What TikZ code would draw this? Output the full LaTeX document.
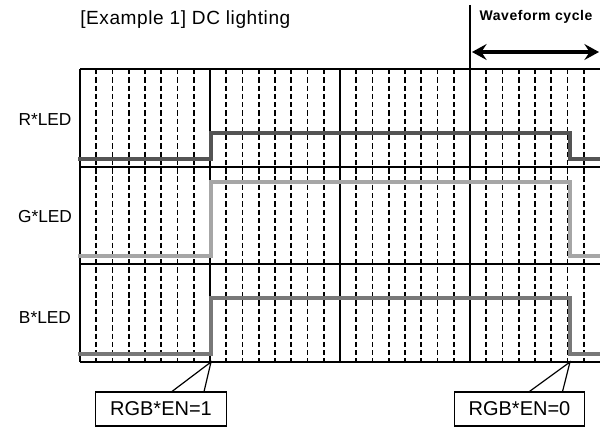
\documentclass[tikz,border=0pt]{standalone}
\usepackage{fontspec}
\setmainfont{Liberation Sans}
\usetikzlibrary{arrows.meta,calc}
\begin{document}
\begin{tikzpicture}[x=0.75pt,y=-0.75pt,
  gridline/.style={line width=1.1pt},
  dashline/.style={line width=1.4pt, dash pattern=on 4pt off 2.2pt},
  wave/.style={line width=2.7pt},
  rowlbl/.style={font=\fontsize{13}{15}\selectfont, anchor=center, inner sep=0pt},
  callout/.style={draw, line width=0.9pt, fill=white, minimum width=98pt, minimum height=25.5pt, inner sep=0pt, font=\fontsize{15}{17}\selectfont},
  pointer/.style={line width=0.9pt}
]
\useasboundingbox (0,0) rectangle (600,428);
% dashed sub-grid
\foreach \k in {1,...,31}{
  \pgfmathtruncatemacro{\m}{mod(\k,8)}
  \ifnum\m>0
    \draw[dashline] ({80+16.25*\k},69) -- ({80+16.25*\k},363);
  \fi
}
% solid grid
\foreach \yy in {69,167,264,362}{ \draw[gridline] (80,\yy) -- (600,\yy); }
\foreach \xx in {80,210,340}{ \draw[gridline] (\xx,69) -- (\xx,362); }
\draw[gridline] (470,5) -- (470,362);
% waveforms
\draw[wave, color=black!67] (78,159) -- (211,159) -- (211,133) -- (570,133) -- (570,159) -- (602,159);
\draw[wave, color=black!35] (78,256) -- (211,256) -- (211,182) -- (570,182) -- (570,256) -- (602,256);
\draw[wave, color=black!53] (78,354) -- (211,354) -- (211,298) -- (570,298) -- (570,354) -- (602,354);
% title and labels
\node[anchor=west, inner sep=0pt, font=\fontsize{14.3}{16}\selectfont\addfontfeature{LetterSpace=3}] (title) at (80,20) {[Example 1] DC lighting};
\node[rowlbl] (rl) at (45,120) {R*LED};
\node[rowlbl] (gl) at (45,217) {G*LED};
\node[rowlbl] (bl) at (45,318) {B*LED};
% waveform cycle
\node[inner sep=0pt, font=\bfseries\fontsize{10.5}{12}\selectfont\addfontfeature{LetterSpace=4}] (wc) at (536,17) {Waveform cycle};
\coordinate (wcl) at (472,52);
\coordinate (wcr) at (599,52);
\draw[line width=2.4pt, {Stealth[length=11pt,width=12pt,inset=4pt]}-{Stealth[length=11pt,width=12pt,inset=4pt]}] (wcl) -- (wcr);
% callouts
\coordinate (tip1) at (211,362);
\coordinate (tip0) at (570,362);
\node[callout] (en1) at (161,409) {RGB*EN=1};
\node[callout] (en0) at (519.5,409) {RGB*EN=0};
\draw[pointer] ($(en1.north west)+(77,0)$) -- (tip1) -- ($(en1.north west)+(109,0)$);
\draw[pointer] ($(en0.north west)+(76,0)$) -- (tip0) -- ($(en0.north west)+(109,0)$);
\end{tikzpicture}
\end{document}
